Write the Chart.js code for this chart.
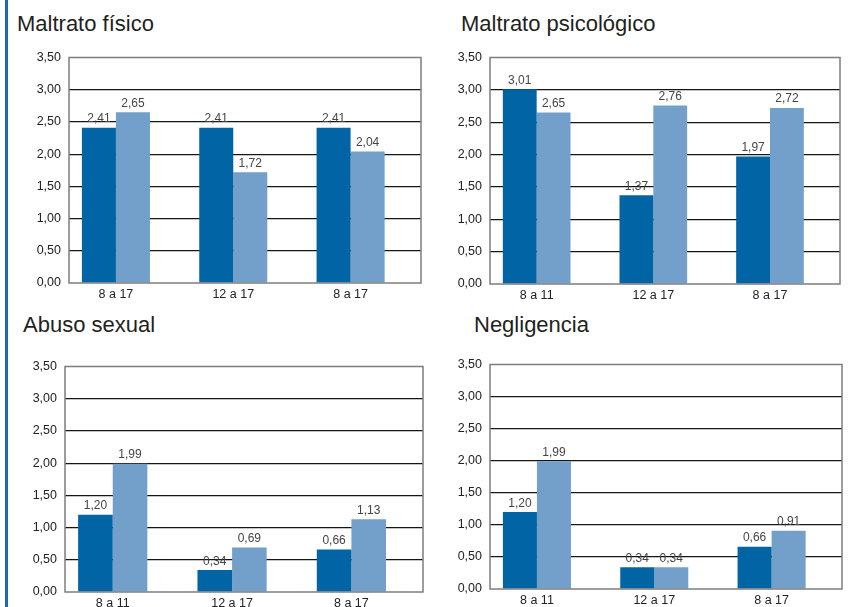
<!DOCTYPE html>
<html>
<head>
<meta charset="utf-8">
<script src="https://cdn.jsdelivr.net/npm/chart.js@4.4.1/dist/chart.umd.min.js"></script>
<style>
  html, body { margin: 0; padding: 0; width: 864px; height: 607px; overflow: hidden; background: #fff; }
  body { position: relative; font-family: 'Liberation Sans', Arial, Helvetica, sans-serif; }
  .side { position: absolute; left: 5px; top: 0; width: 3px; height: 607px; background: #1d68a6; }
  .title { position: absolute; font-size: 22px; line-height: 26px; color: #231f20; white-space: nowrap; }
  canvas { position: absolute; }
</style>
</head>
<body>
<div class="side"></div>

<div class="title" style="left:17px; top:11px;">Maltrato físico</div>
<div class="title" style="left:461px; top:11px;">Maltrato psicológico</div>
<div class="title" style="left:23px; top:312px;">Abuso sexual</div>
<div class="title" style="left:474px; top:312px;">Negligencia</div>

<canvas id="fisico" width="400" height="263" style="left:24px; top:42px;"></canvas>
<canvas id="psico" width="398" height="264" style="left:445px; top:42px;"></canvas>
<canvas id="sexual" width="406" height="263" style="left:20px; top:351px;"></canvas>
<canvas id="negligencia" width="400" height="262" style="left:445px; top:349px;"></canvas>

<script>
// categories
const fisicoLabels = ['8 a 17', '12 a 17', '8 a 17'];
const ageLabels = ['8 a 11', '12 a 17', '8 a 17'];

// series values (dark bar, light bar)
const fisicoDark = [2.41, 2.41, 2.41];
const fisicoLight = [2.65, 1.72, 2.04];
const psicoDark = [3.01, 1.37, 1.97];
const psicoLight = [2.65, 2.76, 2.72];
const sexualDark = [1.20, 0.34, 0.66];
const sexualLight = [1.99, 0.69, 1.13];
const negliDark = [1.20, 0.34, 0.66];
const negliLight = [1.99, 0.34, 0.91];

// y axis ticks
const yTicks = [0, 0.5, 1, 1.5, 2, 2.5, 3, 3.5];

const DARK = '#0064a5';
const LIGHT = '#73a0cb';
const FONT = "'Liberation Sans', Arial, Helvetica, sans-serif";

const fmt = v => v.toFixed(2).replace('.', ',');

// grey frame round the plot area
const framePlugin = {
  id: 'frame',
  afterDatasetsDraw(chart) {
    const { ctx, chartArea: a } = chart;
    ctx.save();
    ctx.strokeStyle = '#7d7d7d';
    ctx.lineWidth = 1.5;
    ctx.strokeRect(a.left, a.top, a.right - a.left, a.bottom - a.top);
    ctx.restore();
  }
};

// value labels above each bar
const valuePlugin = {
  id: 'values',
  afterDatasetsDraw(chart) {
    const ctx = chart.ctx;
    ctx.save();
    ctx.font = '12px ' + FONT;
    ctx.fillStyle = '#454545';
    ctx.textAlign = 'center';
    ctx.textBaseline = 'alphabetic';
    chart.data.datasets.forEach((ds, i) => {
      chart.getDatasetMeta(i).data.forEach((bar, j) => {
        ctx.fillText(fmt(ds.data[j].y), bar.x, bar.y - 5.5);
      });
    });
    ctx.restore();
  }
};

function makeChart(id, cats, dark, light) {
  const toPoints = vals => vals.map((v, i) => ({ x: i, y: v }));
  return new Chart(document.getElementById(id), {
    type: 'bar',
    data: {
      datasets: [
        { data: toPoints(dark), backgroundColor: DARK },
        { data: toPoints(light), backgroundColor: LIGHT }
      ]
    },
    options: {
      responsive: false,
      animation: false,
      layout: { padding: { top: 10, right: 3, left: 0, bottom: 0 } },
      datasets: { bar: { categoryPercentage: 0.58, barPercentage: 1.0 } },
      plugins: { legend: { display: false }, tooltip: { enabled: false } },
      scales: {
        x: {
          type: 'linear',
          min: -0.4,
          max: 2.6,
          offset: false,
          grid: { display: false, drawTicks: false, offset: false },
          border: { display: false },
          afterBuildTicks: scale => { scale.ticks = cats.map((c, i) => ({ value: i })); },
          afterFit: scale => { scale.height = 22; },
          ticks: {
            autoSkip: false,
            maxRotation: 0,
            padding: 4,
            color: '#222',
            font: { family: FONT, size: 12.5 },
            callback: (value, index) => cats[index]
          }
        },
        y: {
          min: 0,
          max: 3.5,
          afterBuildTicks: scale => { scale.ticks = yTicks.map(v => ({ value: v })); },
          afterFit: scale => { scale.width = 45; },
          border: { display: false },
          grid: {
            drawTicks: false,
            lineWidth: 1.2,
            color: c => (c.tick.value === 0 || c.tick.value === 3.5) ? 'rgba(0,0,0,0)' : '#151515'
          },
          ticks: {
            padding: 8,
            color: '#222',
            font: { family: FONT, size: 12.5 },
            callback: v => fmt(v)
          }
        }
      }
    },
    plugins: [framePlugin, valuePlugin]
  });
}

makeChart('fisico', fisicoLabels, fisicoDark, fisicoLight);
makeChart('psico', ageLabels, psicoDark, psicoLight);
makeChart('sexual', ageLabels, sexualDark, sexualLight);
makeChart('negligencia', ageLabels, negliDark, negliLight);
</script>
</body>
</html>
